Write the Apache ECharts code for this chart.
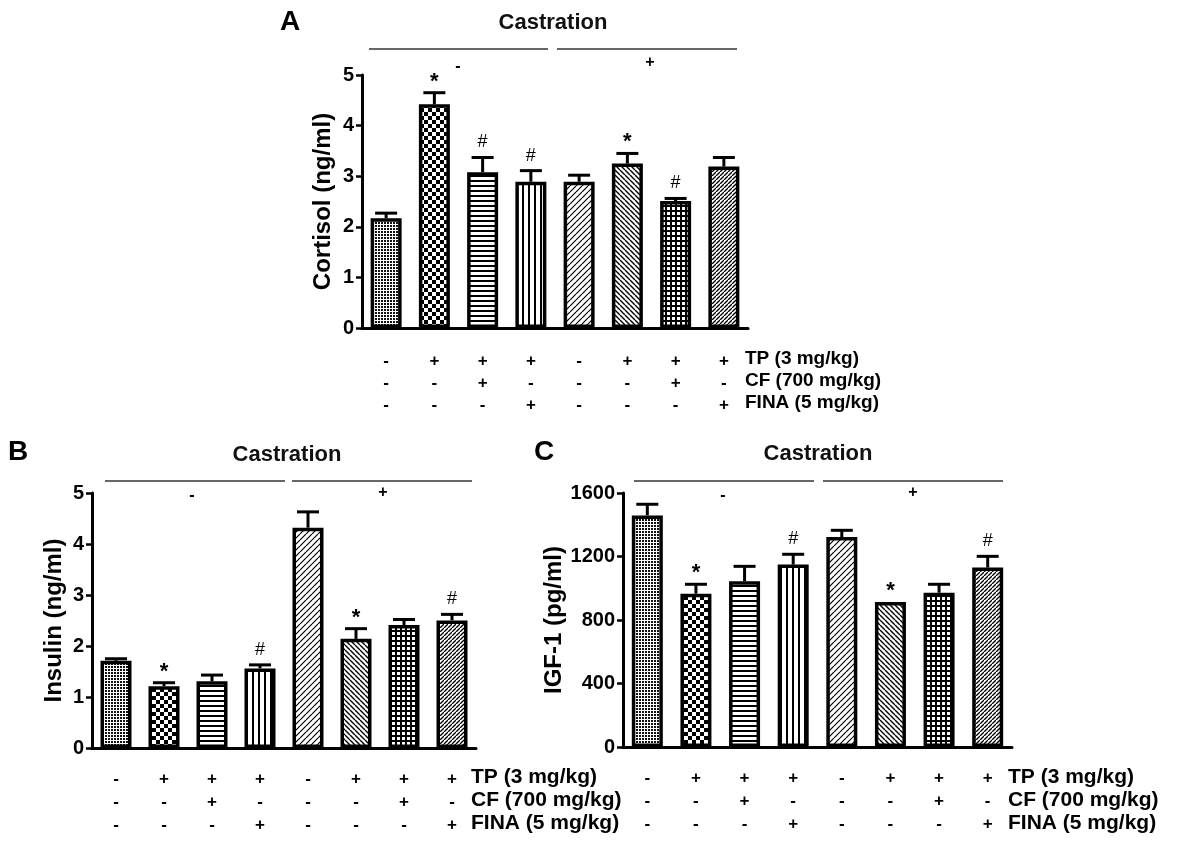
<!DOCTYPE html>
<html>
<head>
<meta charset="utf-8">
<script src="https://cdn.jsdelivr.net/npm/echarts@6/dist/echarts.min.js"></script>
<style>
html,body{margin:0;padding:0;background:#fff;}
#chart{width:1190px;height:844px;}
</style>
</head>
<body>
<div id="chart"></div>
<script>
// ---- data ----
const categories = ['1','2','3','4','5','6','7','8'];
const tpRow   = ['-','+','+','+','-','+','+','+'];
const cfRow   = ['-','-','+','-','-','-','+','-'];
const finaRow = ['-','-','-','+','-','-','-','+'];
const rowLabels = ['TP (3 mg/kg)', 'CF (700 mg/kg)', 'FINA (5 mg/kg)'];
const groupTitle = 'Castration';

const cortisolMean = [2.17, 4.42, 3.08, 2.89, 2.89, 3.25, 2.51, 3.19];
const cortisolSem  = [0.10, 0.23, 0.29, 0.22, 0.13, 0.20, 0.05, 0.18];
const cortisolMarks = ['', '*', '#', '#', '', '*', '#', ''];

const insulinMean = [1.71, 1.21, 1.31, 1.56, 4.32, 2.14, 2.41, 2.50];
const insulinSem  = [0.04, 0.07, 0.12, 0.07, 0.31, 0.20, 0.11, 0.12];
const insulinMarks = ['', '*', '', '#', '', '*', '', '#'];

const igfMean = [1459, 966, 1044, 1149, 1323, 913, 972, 1130];
const igfSem  = [70, 59, 94, 65, 42, 0, 53, 71];
const igfMarks = ['', '*', '', '#', '', '*', '', '#'];

// ---- patterns ----
function makePattern(w, h, draw) {
  const c = document.createElement('canvas');
  c.width = w; c.height = h;
  const ctx = c.getContext('2d');
  ctx.fillStyle = '#fff'; ctx.fillRect(0, 0, w, h);
  ctx.fillStyle = '#000'; ctx.strokeStyle = '#000';
  draw(ctx, w, h);
  return { image: c, repeat: 'repeat' };
}
function diag(ctx, s, up, lw) {
  ctx.lineWidth = lw;
  ctx.beginPath();
  for (let k = -1; k <= 1; k++) {
    if (up) { ctx.moveTo(k * s, s); ctx.lineTo(k * s + s, 0); }
    else { ctx.moveTo(k * s, 0); ctx.lineTo(k * s + s, s); }
  }
  ctx.stroke();
}
const patterns = [
  makePattern(3, 3, ctx => { ctx.fillStyle = '#111'; ctx.fillRect(0, 0, 2, 2); }),
  makePattern(8, 8, ctx => { ctx.fillRect(0, 0, 4, 4); ctx.fillRect(4, 4, 4, 4); }),
  makePattern(1, 5, ctx => { ctx.fillRect(0, 0, 1, 2); }),
  makePattern(6, 1, ctx => { ctx.fillRect(0, 0, 2, 1); }),
  makePattern(6, 6, ctx => diag(ctx, 6, true, 1.2)),
  makePattern(5, 5, ctx => diag(ctx, 5, false, 1.4)),
  makePattern(5, 5, ctx => { ctx.fillRect(0, 0, 5, 2); ctx.fillRect(0, 0, 2, 5); }),
  makePattern(4, 4, ctx => { diag(ctx, 4, true, 1.3); ctx.fillStyle = '#fff'; ctx.fillRect(0, 0, 1, 1); })
];

const FONT = 'Liberation Sans, Arial, Helvetica, sans-serif';

function xAxisCfg(gridIndex, lh, margin, fs) {
  return {
    type: 'category', gridIndex, data: categories,
    axisLine: { lineStyle: { color: '#000', width: 3 } },
    axisTick: { alignWithLabel: true, length: 8, lineStyle: { color: '#000', width: 2.5 } },
    axisLabel: {
      interval: 0, margin, color: '#000', fontSize: fs, fontWeight: 'bold', fontFamily: FONT,
      lineHeight: lh,
      formatter: (v, i) => tpRow[i] + '\n' + cfRow[i] + '\n' + finaRow[i]
    }
  };
}
function yAxisCfg(gridIndex, name, max, interval, nameGap) {
  return {
    type: 'value', gridIndex, min: 0, max, interval,
    name, nameLocation: 'middle', nameGap, nameRotate: 90,
    nameTextStyle: { fontSize: 24, fontWeight: 'bold', color: '#000', fontFamily: FONT },
    axisLine: { show: true, lineStyle: { color: '#000', width: 3 } },
    axisTick: { show: true, length: 6, lineStyle: { color: '#000', width: 2.5 } },
    splitLine: { show: false },
    axisLabel: { color: '#000', fontSize: 20, fontWeight: 'bold', fontFamily: FONT, margin: 8,
      formatter: v => String(v) }
  };
}
function barSeries(idx, means) {
  return {
    type: 'bar', xAxisIndex: idx, yAxisIndex: idx, barWidth: 31, z: 2,
    data: means.map((v, i) => ({ value: v, itemStyle: { color: patterns[i] } })),
    itemStyle: { borderColor: '#000', borderWidth: 3.5 },
    emphasis: { disabled: true }, animation: false
  };
}
function errSeries(idx, means, sems, marks) {
  return {
    type: 'custom', xAxisIndex: idx, yAxisIndex: idx, z: 5, animation: false,
    data: means.map((m, i) => [i, m, sems[i]]),
    encode: { x: 0, y: 1 },
    renderItem: (params, api) => {
      const i = api.value(0), m = api.value(1), s = api.value(2);
      const top = api.coord([i, m]);
      const et = api.coord([i, m + s]);
      const children = [];
      if (s > 0) {
        children.push({ type: 'line', shape: { x1: top[0], y1: top[1], x2: et[0], y2: et[1] }, style: { stroke: '#000', lineWidth: 3 } });
        children.push({ type: 'line', shape: { x1: et[0] - 11, y1: et[1], x2: et[0] + 11, y2: et[1] }, style: { stroke: '#000', lineWidth: 3 } });
      }
      const mk = marks[params.dataIndex];
      if (mk) {
        const star = mk === '*';
        children.push({ type: 'text', style: {
          text: mk, x: et[0], y: et[1] - (star ? 11 : 15),
          align: 'center', verticalAlign: 'middle', fill: '#000',
          fontSize: star ? 22 : 18, fontWeight: star ? 'bold' : 'normal', fontFamily: FONT } });
      }
      return { type: 'group', children };
    }
  };
}

// header decorations (Castration - / +)
function header(cx, cy, lineY, l1, l2, r1, r2, minusX, minusY, plusX, plusY) {
  return [
    { type: 'text', x: cx, y: cy, style: { text: groupTitle, fontSize: 22, fontWeight: 'bold', fontFamily: FONT, fill: '#111', align: 'center', verticalAlign: 'middle' } },
    { type: 'line', shape: { x1: l1, y1: lineY, x2: l2, y2: lineY }, style: { stroke: '#666', lineWidth: 2 } },
    { type: 'line', shape: { x1: r1, y1: lineY, x2: r2, y2: lineY }, style: { stroke: '#666', lineWidth: 2 } },
    { type: 'text', x: minusX, y: minusY, style: { text: '-', fontSize: 16, fontWeight: 'bold', fontFamily: FONT, fill: '#000', align: 'center', verticalAlign: 'middle' } },
    { type: 'text', x: plusX, y: plusY, style: { text: '+', fontSize: 16, fontWeight: 'bold', fontFamily: FONT, fill: '#000', align: 'center', verticalAlign: 'middle' } }
  ];
}
function rowLabelTexts(x, ys, fs) {
  return rowLabels.map((t, k) => ({ type: 'text', x, y: ys[k], style: { text: t, fontSize: fs, fontWeight: 'bold', fontFamily: FONT, fill: '#000', align: 'left', verticalAlign: 'middle' } }));
}
function letter(t, x, y) {
  return { type: 'text', x, y, style: { text: t, fontSize: 28, fontWeight: 'bold', fontFamily: FONT, fill: '#000', align: 'center', verticalAlign: 'middle' } };
}

const chart = echarts.init(document.getElementById('chart'), null, { renderer: 'canvas' });
chart.setOption({
  backgroundColor: '#fff',
  animation: false,
  grid: [
    { left: 362, top: 75, width: 386, height: 253 },
    { left: 92, top: 493, width: 384, height: 255 },
    { left: 623, top: 493, width: 389, height: 254 }
  ],
  xAxis: [
    xAxisCfg(0, 22, 22, 17),
    xAxisCfg(1, 23, 20, 17),
    xAxisCfg(2, 23, 20, 17)
  ],
  yAxis: [
    yAxisCfg(0, 'Cortisol (ng/ml)', 5, 1, 27),
    yAxisCfg(1, 'Insulin (ng/ml)', 5, 1, 26),
    yAxisCfg(2, 'IGF-1 (pg/ml)', 1600, 400, 57)
  ],
  series: [
    barSeries(0, cortisolMean), errSeries(0, cortisolMean, cortisolSem, cortisolMarks),
    barSeries(1, insulinMean), errSeries(1, insulinMean, insulinSem, insulinMarks),
    barSeries(2, igfMean), errSeries(2, igfMean, igfSem, igfMarks)
  ],
  graphic: [].concat(
    header(553, 23, 49, 369, 548, 557, 737, 458, 67, 650, 63),
    header(287, 455, 481, 105, 285, 292, 472, 192, 496, 383, 493),
    header(818, 454, 481, 634, 814, 823, 1003, 723, 496, 913, 493),
    rowLabelTexts(745, [359, 381, 403], 19),
    rowLabelTexts(471, [777, 800, 823], 21),
    rowLabelTexts(1008, [777, 800, 823], 21),
    [letter('A', 290, 22), letter('B', 18, 452), letter('C', 544, 452)]
  )
});
</script>
</body>
</html>
